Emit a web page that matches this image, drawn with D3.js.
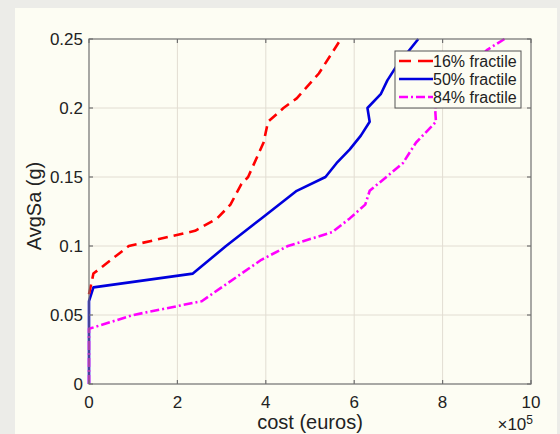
<!DOCTYPE html>
<html><head><meta charset="utf-8">
<script src="https://cdn.jsdelivr.net/npm/d3@7"></script>
<style>body{margin:0;background:#ecece8;}svg{display:block;}</style>
</head><body>
<svg id="c" width="560" height="434"></svg>
<script>
// data (cost in units of 1e5 euros, AvgSa in g)
const seriesNames = ["16% fractile", "50% fractile", "84% fractile"];
const p16 = [[0,0.065],[0.1,0.08],[0.9,0.1],[2.4,0.111],[2.9,0.12],[3.2,0.13],[3.45,0.145],[3.6,0.15],[3.95,0.175],[4.05,0.19],[4.4,0.2],[4.7,0.207],[5.2,0.225],[5.7,0.25]];
const p50 = [[0,0],[0,0.06],[0.1,0.07],[2.35,0.08],[3.1,0.1],[3.9,0.12],[4.7,0.14],[5.35,0.15],[5.6,0.16],[5.9,0.17],[6.15,0.18],[6.35,0.19],[6.3,0.2],[6.6,0.21],[6.75,0.22],[6.95,0.23],[7.45,0.25]];
const p84 = [[0,0],[0,0.04],[1.0,0.05],[2.55,0.06],[3.0,0.07],[3.9,0.09],[4.5,0.1],[5.5,0.11],[5.9,0.12],[6.25,0.13],[6.35,0.14],[7.1,0.16],[7.4,0.175],[7.85,0.19],[7.83,0.2],[9.0,0.242],[9.4,0.25]];
const xTicks = [0,2,4,6,8,10];
const yTicks = [0,0.05,0.1,0.15,0.2,0.25];

const svg = d3.select("#c");
const font = "'Liberation Sans', Arial, sans-serif";
svg.append("rect").attr("x",15).attr("y",8).attr("width",542).attr("height",426).attr("fill","#fdfdf3");

const L=89, R=531, T=39, B=384;
const x = d3.scaleLinear().domain([0,10]).range([L,R]);
const y = d3.scaleLinear().domain([0,0.25]).range([B,T]);

// grid
const g = svg.append("g");
g.selectAll(".gx").data(xTicks.slice(1,-1)).enter().append("line")
 .attr("x1",d=>x(d)).attr("x2",d=>x(d)).attr("y1",T).attr("y2",B).attr("stroke","#e2ddd2").attr("stroke-width",1);
g.selectAll(".gy").data(yTicks.slice(1,-1)).enter().append("line")
 .attr("y1",d=>y(d)).attr("y2",d=>y(d)).attr("x1",L).attr("x2",R).attr("stroke","#e2ddd2").attr("stroke-width",1);

// lines
const line = d3.line().x(d=>x(d[0])).y(d=>y(d[1]));
const styles = [
  {data:p16, color:"#ff0000", dash:"10,6"},
  {data:p50, color:"#0000dd", dash:null},
  {data:p84, color:"#ff00ff", dash:"9,3,2,3"}
];
[styles[1],styles[0],styles[2]].forEach(s=>{
  const p = svg.append("path").datum(s.data).attr("d",line).attr("fill","none")
   .attr("stroke",s.color).attr("stroke-width",2.6).attr("stroke-linejoin","round");
  if(s.dash) p.attr("stroke-dasharray",s.dash);
});

// axes box
const ax = svg.append("g").attr("stroke","#707070").attr("stroke-width",1.2).attr("fill","none");
ax.append("rect").attr("x",L).attr("y",T).attr("width",R-L).attr("height",B-T);
xTicks.forEach(t=>{
  ax.append("line").attr("x1",x(t)).attr("x2",x(t)).attr("y1",B).attr("y2",B-4);
  ax.append("line").attr("x1",x(t)).attr("x2",x(t)).attr("y1",T).attr("y2",T+4);
});
yTicks.forEach(t=>{
  ax.append("line").attr("y1",y(t)).attr("y2",y(t)).attr("x1",L).attr("x2",L+4);
  ax.append("line").attr("y1",y(t)).attr("y2",y(t)).attr("x1",R).attr("x2",R-4);
});

// tick labels
const fmtY = d=> d===0?"0":String(d);
svg.selectAll(".yl").data(yTicks).enter().append("text")
 .attr("x",L-6).attr("y",d=>y(d)).attr("dy","0.36em").attr("text-anchor","end")
 .attr("font-family",font).attr("font-size",17).attr("fill","#222").text(fmtY);
svg.selectAll(".xl").data(xTicks).enter().append("text")
 .attr("x",d=>x(d)).attr("y",B+24).attr("text-anchor","middle")
 .attr("font-family",font).attr("font-size",17).attr("fill","#222").text(d=>d);
// exponent
const ex = svg.append("text").attr("x",R+2).attr("y",B+46).attr("text-anchor","end")
 .attr("font-family",font).attr("font-size",17).attr("fill","#222");
ex.append("tspan").text("\u00d710");
ex.append("tspan").attr("dy",-6).attr("font-size",12).text("5");

// axis titles
svg.append("text").attr("x",310).attr("y",B+45).attr("text-anchor","middle")
 .attr("font-family",font).attr("font-size",20).attr("fill","#222").text("cost (euros)");
svg.append("text").attr("transform",`translate(41,206) rotate(-90)`).attr("text-anchor","middle")
 .attr("font-family",font).attr("font-size",20).attr("fill","#222").text("AvgSa (g)");

// legend
const lg = svg.append("g");
lg.append("rect").attr("x",395).attr("y",51).attr("width",126).attr("height",57)
 .attr("fill","#fdfdf3").attr("stroke","#555").attr("stroke-width",1);
styles.forEach((s,i)=>{
  const yy = 61 + i*18;
  const l = lg.append("line").attr("x1",399).attr("x2",433).attr("y1",yy).attr("y2",yy)
   .attr("stroke",s.color).attr("stroke-width",2.6);
  if(s.dash) l.attr("stroke-dasharray", i===0?"12,7,15":"9,3,2,3,9,3,5");
  lg.append("text").attr("x",433).attr("y",yy).attr("dy","0.36em")
   .attr("font-family",font).attr("font-size",16).attr("fill","#222").text(seriesNames[i]);
});
</script>
</body></html>
